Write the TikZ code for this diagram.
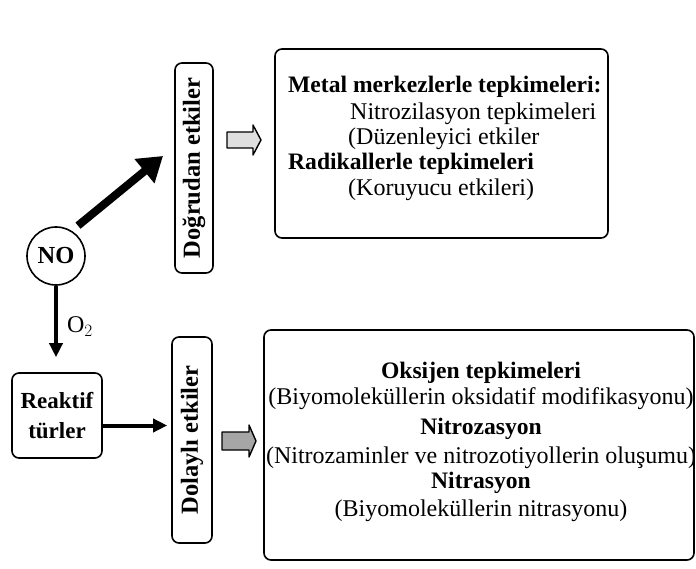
\documentclass[tikz,border=0pt]{standalone}
\usepackage{fontspec}
\setmainfont{Liberation Serif}
\usetikzlibrary{arrows.meta}
\begin{document}
\begin{tikzpicture}[x=1pt,y=-1pt,
  box/.style={draw, line width=1.6pt, rounded corners=7pt, inner sep=0pt},
  txt/.style={font=\fontsize{24}{27}\selectfont, inner sep=0pt},
  btxt/.style={font=\fontsize{23.6}{27}\selectfont\bfseries, inner sep=0pt},
  vtxt/.style={font=\fontsize{24.5}{27}\selectfont\bfseries, inner sep=0pt},
  bigarrow/.style={line width=8pt, -{Triangle[length=24pt,width=30pt]}},
  midarrow/.style={line width=4pt, -{Triangle[length=14pt,width=13pt]}},
  blockarrow/.style={draw, line width=1.4pt, line join=round}]
\fill[white] (0,0) rectangle (696,569);
\useasboundingbox (0,0) rectangle (696,569);

% nodes
\node[draw, circle, line width=1.6pt, minimum size=58pt, inner sep=0pt, vtxt] (no) at (56,256) {NO};
\node[box, rotate=90, minimum width=210pt, minimum height=38pt, vtxt] (dog) at (194,168) {Doğrudan etkiler};
\node[box, minimum width=333pt, minimum height=189pt] (top) at (441.5,143.5) {};
\node[box, minimum width=90pt, minimum height=85pt, align=center, font=\fontsize{23}{30}\selectfont\bfseries] (rt) at (57,415.5) {Reaktif\\türler};
\node[box, rotate=90, minimum width=206pt, minimum height=40pt, vtxt] (dol) at (192,440) {Dolaylı etkiler};
\node[box, minimum width=430pt, minimum height=230pt] (bot) at (479,445) {};

% top box text
\node[btxt, anchor=base west] (t1) at (288,93) {Metal merkezlerle tepkimeleri:};
\node[txt, anchor=base west] (t2) at (350,120) {Nitrozilasyon tepkimeleri};
\node[txt, anchor=base west] (t3) at (348,145) {(Düzenleyici etkiler};
\node[btxt, anchor=base west] (t4) at (288,170) {Radikallerle tepkimeleri};
\node[txt, anchor=base west] (t5) at (348,196) {(Koruyucu etkileri)};

% bottom box text
\node[btxt, anchor=base] (b1) at (481,378) {Oksijen tepkimeleri};
\node[txt, anchor=base] (b2) at (481,404) {(Biyomoleküllerin oksidatif modifikasyonu)};
\node[btxt, anchor=base] (b3) at (481,434) {Nitrozasyon};
\node[txt, anchor=base] (b4) at (481,463) {(Nitrozaminler ve nitrozotiyollerin oluşumu)};
\node[btxt, anchor=base] (b5) at (481,488) {Nitrasyon};
\node[txt, anchor=base] (b6) at (481,516) {(Biyomoleküllerin nitrasyonu)};

% connectors
\coordinate (dtip) at (163,156);
\draw[bigarrow, shorten <=8pt] (no.58) -- (dtip);
\draw[midarrow, shorten >=15pt] (no.south) -- (no.south |- rt.north)
  node[pos=0.47, right=9pt, inner sep=0pt, font=\fontsize{24}{26}\selectfont] (o2) {O$_2$};
\draw[midarrow, shorten >=4pt] ([yshift=-10pt]rt.east) -- ([yshift=-10pt]rt.east -| dol.north);

% block arrows
\draw[blockarrow, fill=gray!25] (227,132) -- (253,132) -- (253,125) -- (261,140) -- (253,155) -- (253,148) -- (227,148) -- cycle;
\draw[blockarrow, fill=gray!70] (222,432) -- (249,432) -- (249,425) -- (256,441) -- (249,457) -- (249,450) -- (222,450) -- cycle;
\end{tikzpicture}
\end{document}
